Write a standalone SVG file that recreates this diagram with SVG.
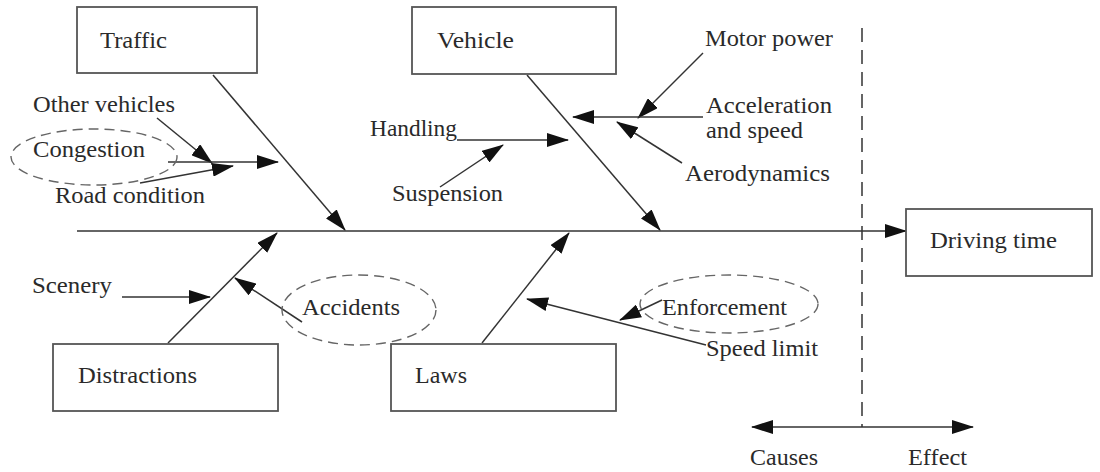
<svg xmlns="http://www.w3.org/2000/svg" width="1100" height="472" viewBox="0 0 1100 472">
<style>
  .box { fill: #fff; stroke: #555; stroke-width: 1.8; }
  .t { font-family: "Liberation Serif", "Times New Roman", serif; font-size: 23px; fill: #2a2a2a; }
  .ln { stroke: #333; stroke-width: 1.5; fill: none; }
  .arr { marker-end: url(#ah); }
  .dash { fill: none; stroke: #666; stroke-width: 1.4; stroke-dasharray: 10 6; }
</style>
<defs>
  <marker id="ah" markerUnits="userSpaceOnUse" markerWidth="22" markerHeight="14" refX="21" refY="7" orient="auto-start-reverse" viewBox="0 0 22 14">
    <path d="M0,0 L22,7 L0,14 z" fill="#111"/>
  </marker>
</defs>
<rect width="1100" height="472" fill="#fff"/>

<g id="connectors">
  <line class="ln arr" x1="77" y1="231" x2="906" y2="231"/>
  <line class="ln arr" x1="213" y1="75" x2="345" y2="230"/>
  <line class="ln arr" x1="527" y1="75" x2="660" y2="230"/>
  <line class="ln arr" x1="168" y1="343" x2="277" y2="233"/>
  <line class="ln arr" x1="482" y1="343" x2="569" y2="233"/>
  <line class="ln arr" x1="157" y1="118" x2="212" y2="163"/>
  <line class="ln arr" x1="140" y1="183" x2="233" y2="166"/>
  <line class="ln arr" x1="168" y1="162" x2="278" y2="162"/>
  <line class="ln arr" x1="457" y1="140" x2="568" y2="140"/>
  <line class="ln arr" x1="440" y1="187" x2="503" y2="145"/>
  <line class="ln arr" x1="703" y1="53" x2="638" y2="118"/>
  <line class="ln arr" x1="703" y1="117" x2="573" y2="117"/>
  <line class="ln arr" x1="682" y1="163" x2="617" y2="122"/>
  <line class="ln arr" x1="122" y1="297" x2="210" y2="297"/>
  <line class="ln arr" x1="302" y1="322" x2="235" y2="278"/>
  <line class="ln arr" x1="706" y1="345" x2="527" y2="299"/>
  <line class="ln arr" x1="662" y1="300" x2="620" y2="320"/>
  <line class="ln" x1="752" y1="427" x2="973" y2="427" marker-start="url(#ah)" marker-end="url(#ah)"/>
  <line x1="862" y1="28" x2="862" y2="427" stroke="#333" stroke-width="1.5" stroke-dasharray="14 8"/>
</g>

<g id="congestion-group">
  <ellipse class="dash" cx="94" cy="157" rx="83" ry="28"/>
  <text class="t" x="33" y="112" textLength="142" lengthAdjust="spacingAndGlyphs">Other vehicles</text>
  <text class="t" x="33" y="157" textLength="112" lengthAdjust="spacingAndGlyphs">Congestion</text>
  <text class="t" x="55" y="203" textLength="150" lengthAdjust="spacingAndGlyphs">Road condition</text>
</g>

<g id="traffic">
  <rect class="box" x="77" y="7" width="180" height="66"/>
  <text class="t" x="100" y="48" textLength="67" lengthAdjust="spacingAndGlyphs">Traffic</text>
</g>

<g id="vehicle">
  <rect class="box" x="412" y="7" width="204" height="67"/>
  <text class="t" x="437" y="48" textLength="77" lengthAdjust="spacingAndGlyphs">Vehicle</text>
</g>

<g id="vehicle-causes">
  <text class="t" x="705" y="46" textLength="128" lengthAdjust="spacingAndGlyphs">Motor power</text>
  <text class="t" x="706" y="113" textLength="126" lengthAdjust="spacingAndGlyphs">Acceleration</text>
  <text class="t" x="706" y="138" textLength="97" lengthAdjust="spacingAndGlyphs">and speed</text>
  <text class="t" x="685" y="181" textLength="145" lengthAdjust="spacingAndGlyphs">Aerodynamics</text>
  <text class="t" x="370" y="136" textLength="87" lengthAdjust="spacingAndGlyphs">Handling</text>
  <text class="t" x="392" y="201" textLength="111" lengthAdjust="spacingAndGlyphs">Suspension</text>
</g>

<g id="driving-time">
  <rect class="box" x="906" y="209" width="186" height="67"/>
  <text class="t" x="930" y="248" textLength="127" lengthAdjust="spacingAndGlyphs">Driving time</text>
</g>

<g id="distractions">
  <rect class="box" x="53" y="344" width="225" height="67"/>
  <text class="t" x="78" y="383" textLength="119" lengthAdjust="spacingAndGlyphs">Distractions</text>
</g>

<g id="distraction-causes">
  <text class="t" x="32" y="293" textLength="80" lengthAdjust="spacingAndGlyphs">Scenery</text>
  <ellipse class="dash" cx="359" cy="310" rx="77" ry="35"/>
  <text class="t" x="302" y="315" textLength="98" lengthAdjust="spacingAndGlyphs">Accidents</text>
</g>

<g id="laws">
  <rect class="box" x="391" y="344" width="225" height="67"/>
  <text class="t" x="415" y="383" textLength="52" lengthAdjust="spacingAndGlyphs">Laws</text>
</g>

<g id="law-causes">
  <ellipse class="dash" cx="729" cy="304" rx="89" ry="29"/>
  <text class="t" x="662" y="315" textLength="125" lengthAdjust="spacingAndGlyphs">Enforcement</text>
  <text class="t" x="706" y="356" textLength="112" lengthAdjust="spacingAndGlyphs">Speed limit</text>
</g>

<g id="legend">
  <text class="t" x="750" y="465" textLength="68" lengthAdjust="spacingAndGlyphs">Causes</text>
  <text class="t" x="908" y="465" textLength="59" lengthAdjust="spacingAndGlyphs">Effect</text>
</g>
</svg>
